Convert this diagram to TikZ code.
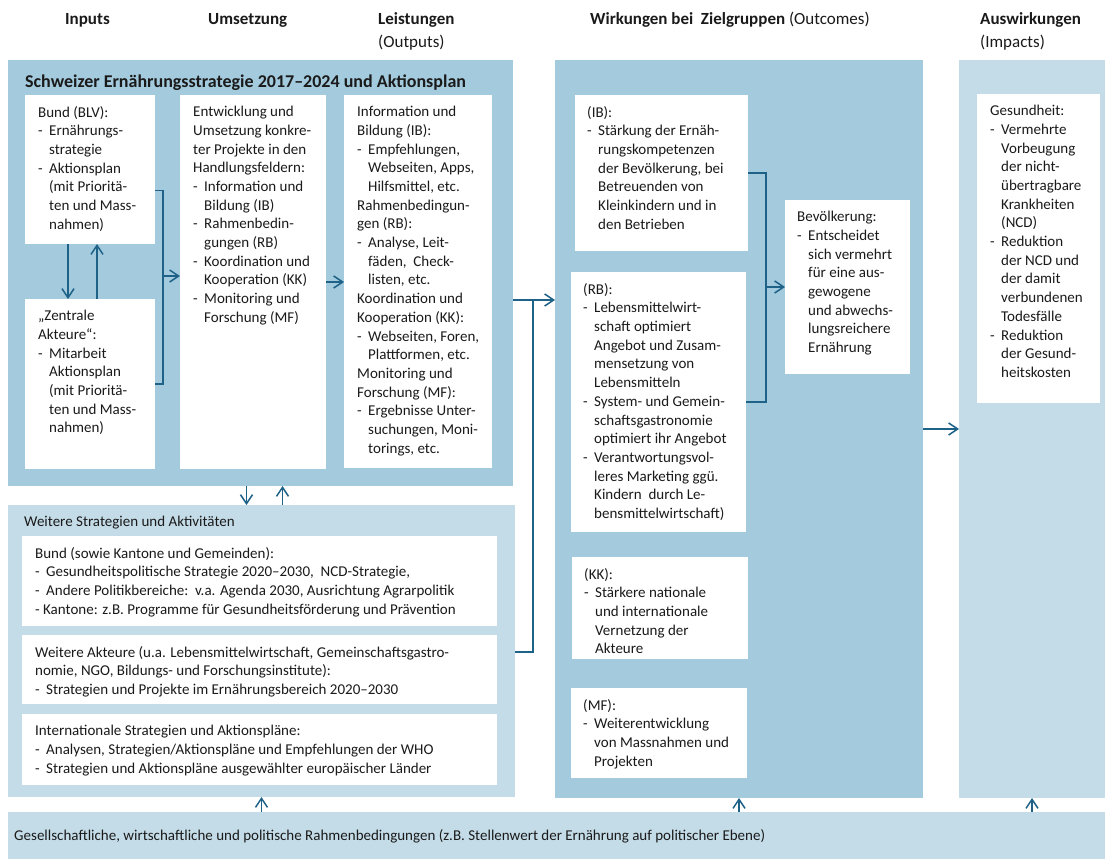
\documentclass[tikz,border=0pt]{standalone}
\usepackage{fontspec}
\setmainfont{Carlito}
\usetikzlibrary{arrows.meta,positioning}
\definecolor{panelblue}{RGB}{163,202,221}
\definecolor{panellight}{RGB}{196,220,232}
\definecolor{arrowblue}{RGB}{30,98,135}
\definecolor{textgray}{RGB}{26,26,26}
\newcommand{\bodyfont}{\fontsize{15}{18.7}\selectfont}
\newcommand{\headfont}{\fontsize{17}{20}\selectfont\bfseries}
\newcommand{\titlefont}{\fontsize{18}{21}\selectfont\bfseries}
\newcommand{\bdsh}{\makebox[11pt][l]{-}}
\newcommand{\bind}{\hspace*{11pt}}

\begin{document}
\begin{tikzpicture}[x=1pt, y=-1pt,
  pnl/.style={anchor=north west, inner sep=0pt, outer sep=0pt},
  outerbox/.style={pnl, fill=panelblue},
  softbox/.style={pnl, fill=panellight},
  wbox/.style={pnl, fill=white},
  btxt/.style={anchor=north west, align=left, inner sep=0pt, xshift=13pt, yshift=-11pt, font=\bodyfont, text=textgray},
  head/.style={anchor=base west, inner sep=0pt, font=\headfont, text=textgray},
  conn/.style={draw=arrowblue, line width=1.5pt},
  arr/.style={conn, -{Straight Barb[length=9pt, width=12pt]}},
]
\useasboundingbox (0,0) rectangle (1105,859);

% column headers
\node[head] (hinputs) at (65,25) {Inputs};
\node[head] (humsetz) at (208,25) {Umsetzung};
\node[head] (hleist)  at (378,25) {Leistungen};
\node[head] (houtput) at (378,48) {\mdseries(Outputs)};
\node[head] (hwirk)   at (590,25) {Wirkungen bei\ \ Zielgruppen \mdseries(Outcomes)};
\node[head] (hausw)   at (980,25) {Auswirkungen};
\node[head] (himpact) at (980,48) {\mdseries(Impacts)};

% panels
\node[outerbox, minimum width=505, minimum height=426] (schweiz) at (8,60) {};
\node[head, font=\titlefont] (tschweiz) at (25,87) {Schweizer Ernährungsstrategie 2017–2024 und Aktionsplan};
\node[softbox, minimum width=507, minimum height=292] (weitere) at (8,505) {};
\node[head, font=\bodyfont] (tweitere) at (24,526) {Weitere Strategien und Aktivitäten};
\node[outerbox, minimum width=368, minimum height=738] (outcomes) at (555,60) {};
\node[softbox, minimum width=146, minimum height=738] (impacts) at (959,60) {};
\node[softbox, minimum width=1097, minimum height=47] (rahmen) at (8,812) {};
\node[head, font=\bodyfont] (trahmen) at (14,840) {Gesellschaftliche, wirtschaftliche und politische Rahmenbedingungen (z.B. Stellenwert der Ernährung auf politischer Ebene)};

% inputs
\node[wbox, minimum width=130, minimum height=149, label={[btxt]north west:{Bund (BLV):\\
  \bdsh Ernährungs-\\ \bind strategie\\ \bdsh Aktionsplan\\ \bind (mit Prioritä-\\ \bind ten und Mass-\\ \bind nahmen)}}] (bund) at (25,95) {};
\node[wbox, minimum width=130, minimum height=170, label={[btxt]north west:{„Zentrale\\ Akteure“:\\
  \bdsh Mitarbeit\\ \bind Aktionsplan\\ \bind (mit Prioritä-\\ \bind ten und Mass-\\ \bind nahmen)}}] (zentrale) at (25,299) {};

% umsetzung
\node[wbox, minimum width=146, minimum height=374, label={[btxt]north west:{Entwicklung und\\ Umsetzung konkre-\\ ter Projekte in den\\ Handlungsfeldern:\\
  \bdsh Information und\\ \bind Bildung (IB)\\ \bdsh Rahmenbedin-\\ \bind gungen (RB)\\
  \bdsh Koordination und\\ \bind Kooperation (KK)\\ \bdsh Monitoring und\\ \bind Forschung (MF)}}] (entw) at (180,95) {};

% leistungen
\node[wbox, minimum width=148, minimum height=373, label={[btxt]north west:{Information und\\ Bildung (IB):\\
  \bdsh Empfehlungen,\\ \bind Webseiten, Apps,\\ \bind Hilfsmittel, etc.\\
  Rahmenbedingun-\\ gen (RB):\\ \bdsh Analyse, Leit-\\ \bind fäden,\ \ Check-\\ \bind listen, etc.\\
  Koordination und\\ Kooperation (KK):\\ \bdsh Webseiten, Foren,\\ \bind Plattformen, etc.\\
  Monitoring und\\ Forschung (MF):\\ \bdsh Ergebnisse Unter-\\ \bind suchungen, Moni-\\ \bind torings, etc.}}] (info) at (344,95) {};

% weitere strategien
\node[wbox, minimum width=475, minimum height=90, label={[btxt]north west:{Bund (sowie Kantone und Gemeinden):\\
  \bdsh Gesundheitspolitische Strategie 2020–2030,\ \ NCD-Strategie,\\
  \bdsh Andere Politikbereiche:\ \ v.a. Agenda 2030, Ausrichtung Agrarpolitik\\
  - Kantone: z.B. Programme für Gesundheitsförderung und Prävention}}] (wbund) at (22,536) {};
\node[wbox, minimum width=475, minimum height=69, label={[btxt]north west:{Weitere Akteure (u.a. Lebensmittelwirtschaft, Gemeinschaftsgastro-\\
  nomie, NGO, Bildungs- und Forschungsinstitute):\\
  \bdsh Strategien und Projekte im Ernährungsbereich 2020–2030}}] (wakt) at (22,635) {};
\node[wbox, minimum width=475, minimum height=71, label={[btxt]north west:{Internationale Strategien und Aktionspläne:\\
  \bdsh Analysen, Strategien/Aktionspläne und Empfehlungen der WHO\\
  \bdsh Strategien und Aktionspläne ausgewählter europäischer Länder}}] (wint) at (22,714) {};

% outcomes
\node[wbox, minimum width=173, minimum height=156, label={[btxt, xshift=-1pt]north west:{(IB):\\
  \bdsh Stärkung der Ernäh-\\ \bind rungskompetenzen\\ \bind der Bevölkerung, bei\\ \bind Betreuenden von\\ \bind Kleinkindern und in\\ \bind den Betrieben}}] (ib) at (575,95) {};
\node[wbox, minimum width=175, minimum height=260, label={[btxt, xshift=-1pt]north west:{(RB):\\
  \bdsh Lebensmittelwirt-\\ \bind schaft optimiert\\ \bind Angebot und Zusam-\\ \bind mensetzung von\\ \bind Lebensmitteln\\
  \bdsh System- und Gemein-\\ \bind schaftsgastronomie\\ \bind optimiert ihr Angebot\\
  \bdsh Verantwortungsvol-\\ \bind leres Marketing ggü.\\ \bind Kindern\ \ durch Le-\\ \bind bensmittelwirtschaft)}}] (rb) at (571,272) {};
\node[wbox, minimum width=176, minimum height=102, label={[btxt, xshift=-1pt]north west:{(KK):\\
  \bdsh Stärkere nationale\\ \bind und internationale\\ \bind Vernetzung der\\ \bind Akteure}}] (kk) at (572,557) {};
\node[wbox, minimum width=176, minimum height=90, label={[btxt, xshift=-1pt]north west:{(MF):\\
  \bdsh Weiterentwicklung\\ \bind von Massnahmen und\\ \bind Projekten}}] (mf) at (571,688) {};
\node[wbox, minimum width=125, minimum height=174, label={[btxt, xshift=-1pt]north west:{Bevölkerung:\\
  \bdsh Entscheidet\\ \bind sich vermehrt\\ \bind für eine aus-\\ \bind gewogene\\ \bind und abwechs-\\ \bind lungsreichere\\ \bind Ernährung}}] (bev) at (785,200) {};

% impacts
\node[wbox, minimum width=123, minimum height=309, label={[btxt]north west:{Gesundheit:\\
  \bdsh Vermehrte\\ \bind Vorbeugung\\ \bind der nicht-\\ \bind übertragbare\\ \bind Krankheiten\\ \bind (NCD)\\
  \bdsh Reduktion\\ \bind der NCD und\\ \bind der damit\\ \bind verbundenen\\ \bind Todesfälle\\
  \bdsh Reduktion\\ \bind der Gesund-\\ \bind heitskosten}}] (ges) at (977,94) {};

% connectors
\draw[arr] ([xshift=-22pt]bund.south) -- ([xshift=-22pt]bund.south |- zentrale.north);
\draw[arr] ([xshift=7pt]bund.south |- zentrale.north) -- ([xshift=7pt]bund.south);
\coordinate (j1) at (163,276);
\draw[conn] ([yshift=-21pt]bund.east) -| (j1) |- (zentrale.east);
\draw[arr] (j1) -- (j1 -| entw.west);
\draw[arr] (entw.east) -- (entw.east -| info.west);

\coordinate (j2) at (533,300);
\coordinate (j3) at (533,652);
\draw[arr] (schweiz.east |- j2) -- (j2 -| outcomes.west);
\draw[conn] (j2) -- (j3) -- (j3 -| weitere.east);
\draw[arr] ([xshift=-14pt]schweiz.south) -- ([xshift=-14pt]schweiz.south |- weitere.north);
\draw[arr] ([xshift=22pt]schweiz.south |- weitere.north) -- ([xshift=22pt]schweiz.south);

\coordinate (j4) at (766,287);
\draw[conn] (ib.east) -| (j4) |- (rb.east);
\draw[arr] (j4) -- (j4 -| bev.west);
\draw[arr] (outcomes) -- (impacts);

\draw[arr] (weitere.south |- rahmen.north) -- (weitere.south);
\draw[arr] (outcomes.south |- rahmen.north) -- (outcomes.south);
\draw[arr] (impacts.south |- rahmen.north) -- (impacts.south);
\end{tikzpicture}
\end{document}
